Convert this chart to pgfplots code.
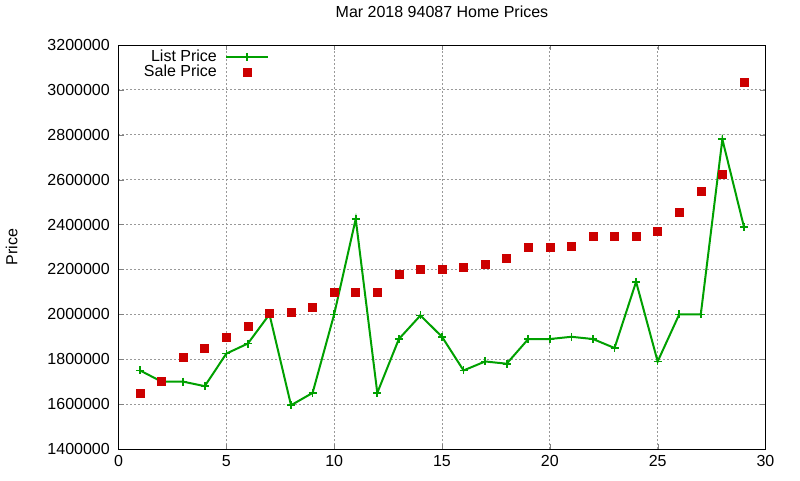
\documentclass[border=0pt]{standalone}
\usepackage{pgfplots}
\pgfplotsset{compat=1.18}
\usepackage{fontspec}
\setmainfont{Liberation Sans}
\definecolor{listgreen}{RGB}{0,160,0}
\definecolor{salered}{RGB}{204,0,0}
\begin{document}
\begin{tikzpicture}
  \begin{axis}[
    scale only axis,
    width=485.25pt, height=303pt,
    at={(0,0)}, anchor=south west,
    font=\fontsize{12}{14}\selectfont,
    /pgf/number format/assume math mode=true,
    /pgf/number format/.cd, fixed, 1000 sep={}, /pgfplots/.cd,
    scaled y ticks=false,
    title={Mar 2018 94087 Home Prices},
    title style={at={(0.5,1)}, anchor=center, yshift=18.75pt},
    ylabel={Price},
    ylabel style={at={(axis description cs:-0.165,0.5)}, anchor=center},
    xmin=0, xmax=30, ymin=1400000, ymax=3200000,
    xtick={0,5,...,30},
    ytick={1400000,1600000,...,3200000},
    yticklabel style={xshift=-3pt},
    xticklabel style={yshift=-1pt},
    tick pos=both, tick align=inside,
    major tick length=4pt,
    axis line style={line width=0.75pt},
    grid=major,
    major grid style={gray!80, line width=0.6pt, dash pattern=on 1.5pt off 1.5pt},
    legend plot pos=right,
    legend cell align=right,
    legend style={draw=none, fill=none, at={(0.235,0.998)}, anchor=north east,
      row sep=-3pt, inner sep=1pt},
    legend image code/.code={\path (0cm,0cm);
      \draw[mark repeat=2,mark phase=2]
      plot coordinates {(0.15cm,0cm)(0.7cm,0cm)(1.25cm,0cm)};},
  ]
    \addplot[color=listgreen, line width=1.5pt, mark=+, mark size=3pt,
      mark options={line width=1.2pt}] coordinates {
      (1,1750000) (2,1700000) (3,1700000) (4,1680000) (5,1825000)
      (6,1870000) (7,2000000) (8,1595000) (9,1650000) (10,2000000)
      (11,2425000) (12,1650000) (13,1890000) (14,1995000) (15,1900000)
      (16,1750000) (17,1790000) (18,1780000) (19,1890000) (20,1890000)
      (21,1900000) (22,1890000) (23,1850000) (24,2145000) (25,1790000)
      (26,2000000) (27,2000000) (28,2780000) (29,2390000)
    };
    \addlegendentry{List Price}
    \addplot[only marks, mark=square*, mark size=3pt, color=salered] coordinates {
      (1,1650000) (2,1700000) (3,1810000) (4,1850000) (5,1900000)
      (6,1945000) (7,2005000) (8,2010000) (9,2030000) (10,2100000)
      (11,2100000) (12,2100000) (13,2180000) (14,2200000) (15,2200000)
      (16,2210000) (17,2225000) (18,2250000) (19,2300000) (20,2300000)
      (21,2305000) (22,2350000) (23,2350000) (24,2350000) (25,2372000)
      (26,2455000) (27,2550000) (28,2622000) (29,3035000)
    };
    \addlegendentry{Sale Price}
  \end{axis}
  \path[use as bounding box] (-88.875pt,-23.25pt) rectangle (511.125pt,336.75pt);
\end{tikzpicture}
\end{document}
